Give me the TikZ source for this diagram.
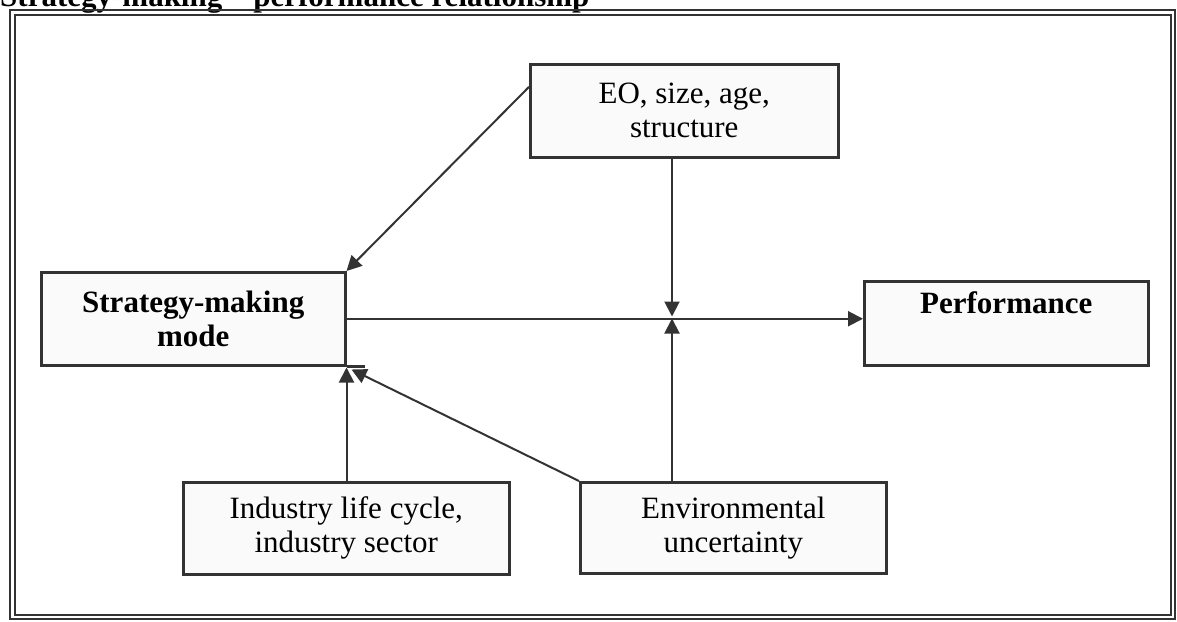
\documentclass[tikz,border=0pt]{standalone}
\usepackage{fontspec}
\setmainfont{Liberation Serif}
\usetikzlibrary{arrows.meta,calc}
\definecolor{linecol}{HTML}{333333}
\definecolor{boxfill}{HTML}{FAFAFA}
\begin{document}
\begin{tikzpicture}[x=1pt,y=-1pt,
  box/.style={draw=linecol, line width=2.5pt, fill=boxfill, inner sep=0pt,
    align=center, anchor=north west, font=\fontsize{31}{34}\selectfont},
  boldbox/.style={box, font=\bfseries\fontsize{31}{34}\selectfont},
  conn/.style={draw=linecol, line width=2pt, -{Triangle[length=15pt,width=15pt]}},
  frameline/.style={draw=linecol, line width=2pt}]
\useasboundingbox (0,0) rectangle (1177,621);

% heading above the frame
\node[anchor=base west, inner sep=0pt, font=\bfseries\fontsize{31}{34}\selectfont]
  (title) at (0,6) {Strategy-making – performance relationship};

% double frame
\draw[frameline] (10,10) rectangle (1175,619);
\draw[frameline] (14.5,14.5) rectangle (1170.5,615);

% boxes
\node[box, minimum width=308pt, minimum height=93pt] (eo) at (529,63)
  {EO, size, age,\\structure};
\node[boldbox, minimum width=304pt, minimum height=93pt] (sm) at (40,271)
  {Strategy-making\\mode};
\node[boldbox, minimum width=284pt, minimum height=84pt, text depth=41pt] (perf) at (863,280)
  {Performance};
\node[box, minimum width=326pt, minimum height=92pt] (ind) at (182,481)
  {Industry life cycle,\\industry sector};
\node[box, minimum width=306pt, minimum height=91pt] (env) at (579,481)
  {Environmental\\uncertainty};

% bottom edge of the strategy box runs a little past its corner
\draw[draw=linecol, line width=2.5pt] (sm.south east) -- ++(18,0);

% point where the moderators meet the main path
\coordinate (cross) at (672,317.5);

% connectors
\draw[conn] ($(eo.north west)!0.5!(eo.west)$) -- (sm.north east);
\draw[conn] (sm.east) -- (sm.east -| perf.west);
\draw[conn] (eo.south -| cross) -- ($(cross)+(0,-1)$);
\draw[conn] (env.north -| cross) -- ($(cross)+(0,1)$);
\draw[conn] (ind.north -| sm.south east) -- ($(sm.south east)+(0,1)$);
\draw[conn] (env.north west) -- ($(sm.south east)+(5,3)$);
\end{tikzpicture}
\end{document}
